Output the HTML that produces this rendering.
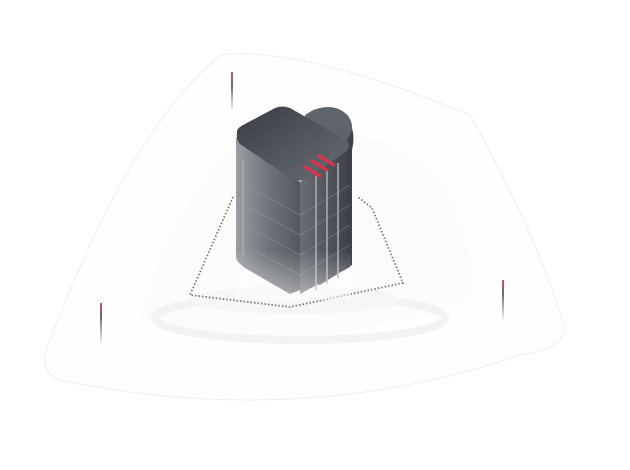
<!DOCTYPE html>
<html><head><style>body{margin:0;background:#fff}svg{display:block}</style></head><body>
<svg width="630" height="470" viewBox="0 0 630 470" xmlns="http://www.w3.org/2000/svg">
<defs>
<linearGradient id="side" x1="0" x2="1"><stop offset="0" stop-color="#9a9ea3"/><stop offset="0.5" stop-color="#70747a"/><stop offset="1" stop-color="#54585e"/></linearGradient>
<linearGradient id="side2" x1="0" x2="1"><stop offset="0" stop-color="#6a6e74"/><stop offset="1" stop-color="#3d4047"/></linearGradient>
<linearGradient id="top" x1="0" y1="0" x2="1" y2="1"><stop offset="0" stop-color="#3a3d44"/><stop offset="1" stop-color="#686c73"/></linearGradient>
<linearGradient id="fade" x1="0" y1="0" x2="0" y2="1"><stop offset="0" stop-color="#fff" stop-opacity="0"/><stop offset="1" stop-color="#fff" stop-opacity="0.5"/></linearGradient>
<linearGradient id="vl" x1="0" y1="0" x2="0" y2="1"><stop offset="0" stop-color="#e0506a"/><stop offset="0.3" stop-color="#666"/><stop offset="1" stop-color="#fff"/></linearGradient>
</defs>
<path d="M220 55 Q300 45 470 115 Q540 240 565 330 Q560 350 520 355 Q300 430 60 380 Q35 370 50 340 Q130 130 220 55Z" fill="#fefefe" stroke="#efeff2" stroke-width="1"/>
<path d="M250 130 Q380 120 440 175 Q480 250 470 300 Q300 360 140 320 Q170 200 250 130Z" fill="#fcfcfc"/>
<ellipse cx="300" cy="318" rx="145" ry="22" fill="none" stroke="#f3f3f4" stroke-width="8"/>
<ellipse cx="295" cy="300" rx="105" ry="14" fill="#f6f6f7"/>
<rect x="231" y="72" width="2" height="40" fill="url(#vl)"/>
<rect x="100" y="303" width="2" height="42" fill="url(#vl)"/>
<rect x="502" y="280" width="2" height="42" fill="url(#vl)"/>
<path d="M233 197 L190 295 L290 307 L403 283 L372 208 L358 197" fill="none" stroke="#777" stroke-width="1.8" stroke-dasharray="1.5 2"/>
<path d="M305 115 Q325 100 345 115 Q357 130 352 150 L352 265 L320 285 L305 280Z" fill="url(#side2)"/>
<ellipse cx="328" cy="127" rx="24" ry="20" fill="#5f636a"/>
<path d="M236 137 L236 258 Q237 262 245 268 L290 294 L300 290 L300 182Z" fill="url(#side)"/>
<path d="M300 182 L350 150 L350 267 L300 294Z" fill="url(#side2)"/>
<g stroke="#a8acb1" stroke-width="2" opacity="0.8"><line x1="316" y1="176" x2="316" y2="290"/><line x1="327" y1="170" x2="327" y2="284"/><line x1="338" y1="163" x2="338" y2="278"/><line x1="243" y1="160" x2="243" y2="255"/></g>
<g stroke="#a0a4aa" stroke-width="1" fill="none" opacity="0.35"><path d="M236 180 L300 215 L350 185"/><path d="M236 200 L300 235 L350 205"/><path d="M236 220 L300 255 L350 225"/><path d="M236 240 L300 275 L350 245"/></g>
<path d="M237 133 Q236 128 245 124 L275 108 Q282 105 290 108 L346 140 Q352 146 345 152 L308 178 Q300 183 292 179 L240 144 Q236 140 237 133Z" fill="url(#top)"/>
<g stroke="#e8304c" stroke-width="3" stroke-linecap="round"><line x1="305" y1="167" x2="320" y2="176"/><line x1="312" y1="161" x2="327" y2="170"/><line x1="319" y1="156" x2="334" y2="165"/></g>
<rect x="236" y="250" width="115" height="50" fill="url(#fade)"/>
</svg>
</body></html>
